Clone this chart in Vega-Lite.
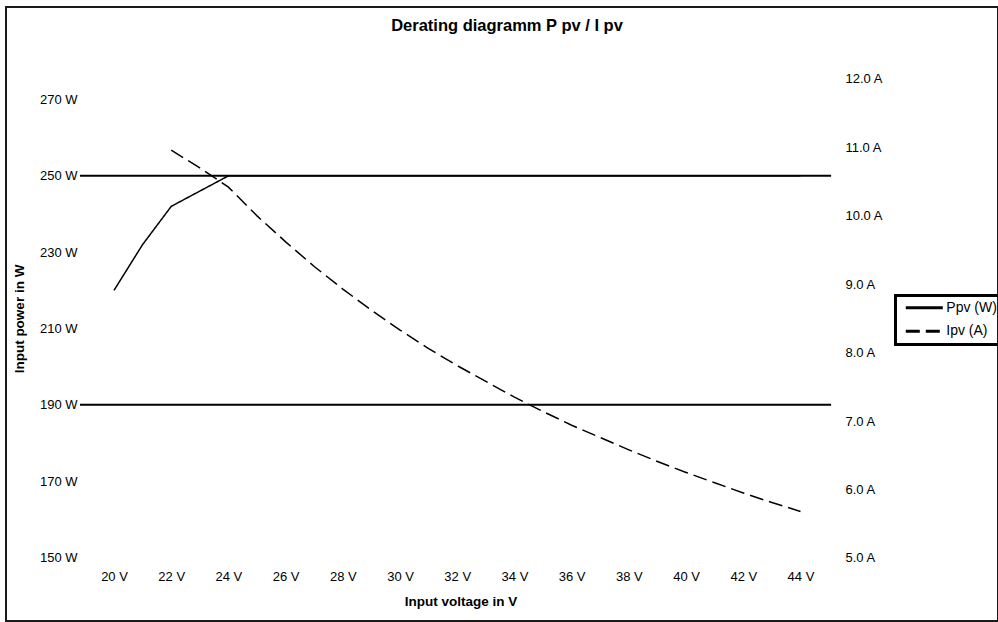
{
  "$schema": "https://vega.github.io/schema/vega-lite/v6.json",
  "autosize": {"type": "none"},
  "padding": {"left": 6, "top": 7, "right": 0, "bottom": 1},
  "width": 992,
  "height": 614,
  "background": "white",
  "datasets": {
    "series": [
      {"U": 20, "series": "Ppv (W)", "value": 220},
      {"U": 21, "series": "Ppv (W)", "value": 232},
      {"U": 22, "series": "Ppv (W)", "value": 242},
      {"U": 23, "series": "Ppv (W)", "value": 246},
      {"U": 24, "series": "Ppv (W)", "value": 250},
      {"U": 25, "series": "Ppv (W)", "value": 250},
      {"U": 26, "series": "Ppv (W)", "value": 250},
      {"U": 27, "series": "Ppv (W)", "value": 250},
      {"U": 28, "series": "Ppv (W)", "value": 250},
      {"U": 29, "series": "Ppv (W)", "value": 250},
      {"U": 30, "series": "Ppv (W)", "value": 250},
      {"U": 31, "series": "Ppv (W)", "value": 250},
      {"U": 32, "series": "Ppv (W)", "value": 250},
      {"U": 33, "series": "Ppv (W)", "value": 250},
      {"U": 34, "series": "Ppv (W)", "value": 250},
      {"U": 35, "series": "Ppv (W)", "value": 250},
      {"U": 36, "series": "Ppv (W)", "value": 250},
      {"U": 37, "series": "Ppv (W)", "value": 250},
      {"U": 38, "series": "Ppv (W)", "value": 250},
      {"U": 39, "series": "Ppv (W)", "value": 250},
      {"U": 40, "series": "Ppv (W)", "value": 250},
      {"U": 41, "series": "Ppv (W)", "value": 250},
      {"U": 42, "series": "Ppv (W)", "value": 250},
      {"U": 43, "series": "Ppv (W)", "value": 250},
      {"U": 44, "series": "Ppv (W)", "value": 250},
      {"U": 22, "series": "Ipv (A)", "value": 10.96},
      {"U": 23, "series": "Ipv (A)", "value": 10.7},
      {"U": 24, "series": "Ipv (A)", "value": 10.42},
      {"U": 25, "series": "Ipv (A)", "value": 10.0},
      {"U": 26, "series": "Ipv (A)", "value": 9.62},
      {"U": 27, "series": "Ipv (A)", "value": 9.26},
      {"U": 28, "series": "Ipv (A)", "value": 8.93},
      {"U": 29, "series": "Ipv (A)", "value": 8.62},
      {"U": 30, "series": "Ipv (A)", "value": 8.33},
      {"U": 31, "series": "Ipv (A)", "value": 8.06},
      {"U": 32, "series": "Ipv (A)", "value": 7.81},
      {"U": 33, "series": "Ipv (A)", "value": 7.58},
      {"U": 34, "series": "Ipv (A)", "value": 7.35},
      {"U": 35, "series": "Ipv (A)", "value": 7.14},
      {"U": 36, "series": "Ipv (A)", "value": 6.94},
      {"U": 37, "series": "Ipv (A)", "value": 6.76},
      {"U": 38, "series": "Ipv (A)", "value": 6.58},
      {"U": 39, "series": "Ipv (A)", "value": 6.41},
      {"U": 40, "series": "Ipv (A)", "value": 6.25},
      {"U": 41, "series": "Ipv (A)", "value": 6.1},
      {"U": 42, "series": "Ipv (A)", "value": 5.95},
      {"U": 43, "series": "Ipv (A)", "value": 5.81},
      {"U": 44, "series": "Ipv (A)", "value": 5.68}
    ],
    "limits": [
      {"value": 250},
      {"value": 190}
    ]
  },
  "layer": [
    {
      "layer": [
        {
          "data": {"name": "limits"},
          "mark": {"type": "rule", "color": "black", "strokeWidth": 2},
          "encoding": {
            "y": {
              "field": "value", "type": "quantitative",
              "scale": {"domain": [133.36, 294.24], "nice": false, "zero": false},
              "axis": {
                "orient": "left", "offset": -74, "values": [150, 170, 190, 210, 230, 250, 270],
                "labelExpr": "datum.value + ' W'", "domain": false, "ticks": false, "tickSize": 0, "grid": false,
                "labelPadding": 3, "labelFont": "Liberation Sans", "labelFontSize": 13, "labelColor": "black",
                "title": "Input power in W", "titleFont": "Liberation Sans", "titleFontSize": 13.5, "titleFontWeight": "bold",
                "titleColor": "black", "titleX": -61, "titleY": 311.5, "titleAngle": 270, "titleBaseline": "middle", "titleAlign": "center"
              }
            },
            "x": {"datum": 18.81, "type": "quantitative",
              "scale": {"domain": [16.224, 50.905], "nice": false, "zero": false}},
            "x2": {"datum": 45.07}
          }
        },
        {
          "data": {"name": "series"},
          "transform": [{"filter": "datum.series === 'Ppv (W)'"}],
          "mark": {"type": "line", "color": "black", "strokeWidth": 1.5},
          "encoding": {
            "x": {
              "field": "U", "type": "quantitative",
              "scale": {"domain": [16.224, 50.905], "nice": false, "zero": false},
              "axis": {
                "orient": "bottom", "offset": -63, "values": [20, 22, 24, 26, 28, 30, 32, 34, 36, 38, 40, 42, 44],
                "labelExpr": "datum.value + ' V'", "domain": false, "ticks": false, "tickSize": 0, "grid": false,
                "labelPadding": 18, "labelBaseline": "middle", "labelFont": "Liberation Sans", "labelFontSize": 13, "labelColor": "black",
                "title": "Input voltage in V", "titleFont": "Liberation Sans", "titleFontSize": 13.5, "titleFontWeight": "bold",
                "titleColor": "black", "titleX": 454.5, "titleY": 43.5, "titleBaseline": "middle", "titleAlign": "center"
              }
            },
            "y": {
              "field": "value", "type": "quantitative",
              "scale": {"domain": [133.36, 294.24], "nice": false, "zero": false},
              "axis": {
                "orient": "left", "offset": -74, "values": [150, 170, 190, 210, 230, 250, 270],
                "labelExpr": "datum.value + ' W'", "domain": false, "ticks": false, "tickSize": 0, "grid": false,
                "labelPadding": 3, "labelFont": "Liberation Sans", "labelFontSize": 13, "labelColor": "black",
                "title": "Input power in W", "titleFont": "Liberation Sans", "titleFontSize": 13.5, "titleFontWeight": "bold",
                "titleColor": "black", "titleX": -61, "titleY": 311.5, "titleAngle": 270, "titleBaseline": "middle", "titleAlign": "center"
              }
            },
            "strokeDash": {
              "field": "series", "type": "nominal",
              "scale": {"domain": ["Ppv (W)", "Ipv (A)"], "range": [[1, 0], [14, 6]]},
              "legend": {
                "title": null, "orient": "none", "legendX": 889.5, "legendY": 288.5,
                "padding": 5.3, "rowPadding": 9.5, "labelOffset": 15, "symbolOffset": 16.5,
                "symbolType": "M-5,0H5", "symbolSize": 54.8, "symbolStrokeWidth": 3, "symbolStrokeColor": "black",
                "labelFont": "Liberation Sans", "labelFontSize": 14, "labelColor": "black",
                "strokeColor": "black",
                "encode": {"legend": {"update": {"strokeWidth": {"value": 3}}}, "symbols": {"update": {"strokeWidth": {"value": 3}, "stroke": {"value": "black"}}}}
              }
            }
          }
        }
      ]
    },
    {
      "data": {"name": "series"},
      "transform": [{"filter": "datum.series === 'Ipv (A)'"}],
      "mark": {"type": "line", "color": "black", "strokeWidth": 1.5},
      "encoding": {
        "x": {
          "field": "U", "type": "quantitative",
          "scale": {"domain": [16.224, 50.905], "nice": false, "zero": false},
          "axis": {
            "orient": "top", "offset": 0, "labels": false, "domain": false, "ticks": false, "tickSize": 0, "grid": false,
            "title": "Derating diagramm P pv / I pv", "titleFont": "Liberation Sans", "titleFontSize": 16.5, "titleFontWeight": "bold",
            "titleColor": "black", "titleX": 500.5, "titleY": 18, "titleBaseline": "middle", "titleAlign": "center"
          }
        },
        "y": {
          "field": "value", "type": "quantitative",
          "scale": {"domain": [4.079, 13.052], "nice": false, "zero": false},
          "axis": {
            "orient": "right", "offset": -167, "values": [5, 6, 7, 8, 9, 10, 11, 12],
            "labelExpr": "format(datum.value, '.1f') + ' A'", "domain": false, "ticks": false, "tickSize": 0, "grid": false,
            "labelPadding": 14, "labelFont": "Liberation Sans", "labelFontSize": 13, "labelColor": "black",
            "title": null
          }
        },
        "strokeDash": {
          "field": "series", "type": "nominal",
          "scale": {"domain": ["Ppv (W)", "Ipv (A)"], "range": [[1, 0], [14, 6]]},
          "legend": {
            "title": null, "orient": "none", "legendX": 889.5, "legendY": 288.5,
            "padding": 5.3, "rowPadding": 9.5, "labelOffset": 15, "symbolOffset": 16.5,
            "symbolType": "M-5,0H5", "symbolSize": 54.8, "symbolStrokeWidth": 3, "symbolStrokeColor": "black",
            "labelFont": "Liberation Sans", "labelFontSize": 14, "labelColor": "black",
            "strokeColor": "black",
            "encode": {"legend": {"update": {"strokeWidth": {"value": 3}}}, "symbols": {"update": {"strokeWidth": {"value": 3}, "stroke": {"value": "black"}}}}
          }
        }
      }
    }
  ],
  "resolve": {"scale": {"y": "independent"}},
  "config": {
    "font": "Liberation Sans",
    "view": {"stroke": "#1a1a1a", "strokeWidth": 2}
  }
}
